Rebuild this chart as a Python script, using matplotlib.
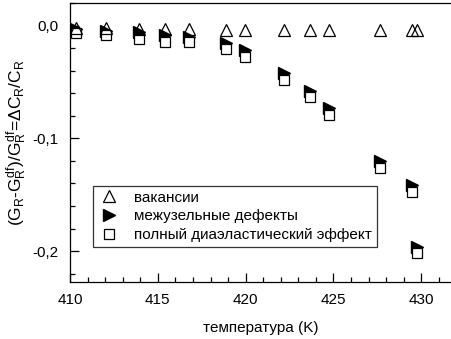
import matplotlib.pyplot as plt
from matplotlib.ticker import MultipleLocator, FuncFormatter

plt.rcParams['font.family'] = ['Liberation Sans', 'DejaVu Sans']
plt.rcParams['mathtext.fontset'] = 'custom'
plt.rcParams['mathtext.rm'] = 'Liberation Sans'
plt.rcParams['mathtext.it'] = 'Liberation Sans'
plt.rcParams['mathtext.bf'] = 'Liberation Sans:bold'

# Data values
temp = [410.34, 412.05, 413.91, 415.39, 416.75, 418.89, 419.95,
        422.16, 423.69, 424.77, 427.65, 429.47, 429.75]
vacancies = [-0.002, -0.002, -0.003, -0.003, -0.003, -0.004, -0.004,
             -0.004, -0.004, -0.004, -0.004, -0.004, -0.004]
interstitials = [-0.003, -0.005, -0.006, -0.008, -0.010, -0.015, -0.0216,
                 -0.0417, -0.0577, -0.0733, -0.120, -0.141, -0.196]
total = [-0.0068, -0.0083, -0.012, -0.0142, -0.0147, -0.021, -0.0275,
         -0.0482, -0.0635, -0.0795, -0.1265, -0.1473, -0.202]

fig = plt.figure(figsize=(4.52, 3.39), dpi=100)
ax = fig.add_axes([0.155, 0.168, 0.845, 0.823])

ax.plot(temp, interstitials, linestyle='none', marker='>', ms=8,
        color='black', label='межузельные дефекты', zorder=3)
ax.plot(temp, total, linestyle='none', marker='s', ms=7, mfc='white',
        mec='black', mew=0.9, label='полный диаэластический эффект', zorder=4)
ax.plot(temp, vacancies, linestyle='none', marker='^', ms=8.5, mfc='none',
        mec='black', mew=0.9, label='вакансии', zorder=5)

ax.set_xlim(410, 431.75)
ax.set_ylim(-0.2275, 0.02)
ax.xaxis.set_major_locator(MultipleLocator(5))
ax.xaxis.set_minor_locator(MultipleLocator(1))
ax.yaxis.set_major_locator(MultipleLocator(0.1))
ax.yaxis.set_minor_locator(MultipleLocator(0.02))
ax.yaxis.set_major_formatter(FuncFormatter(lambda v, p: f'{v:.1f}'.replace('.', ',').replace('-0,0', '0,0')))
ax.tick_params(which='both', direction='in', top=False, right=False, labelsize=11, width=0.9)
ax.tick_params(which='major', length=6.5, pad=8)
ax.tick_params(which='minor', length=3.5)
ax.spines['right'].set_visible(False)
for s in ['left', 'top', 'bottom']:
    ax.spines[s].set_linewidth(0.9)

ax.set_xlabel('температура (K)', fontsize=11, labelpad=10)
ax.set_ylabel(r'$(G_R$-$G_R^{df})/G_R^{df}$=$\Delta C_R/C_R$', fontsize=12.5, labelpad=3)

h, l = ax.get_legend_handles_labels()
order = [2, 0, 1]
leg = ax.legend([h[i] for i in order], [l[i] for i in order], loc='lower left',
                bbox_to_anchor=(0.04, 0.1), fontsize=11, frameon=True,
                fancybox=False, edgecolor='black', handletextpad=0.9,
                borderpad=0.3, labelspacing=0.3, handlelength=1.5)
leg.get_frame().set_linewidth(0.9)

plt.savefig('out.png', dpi=100)
